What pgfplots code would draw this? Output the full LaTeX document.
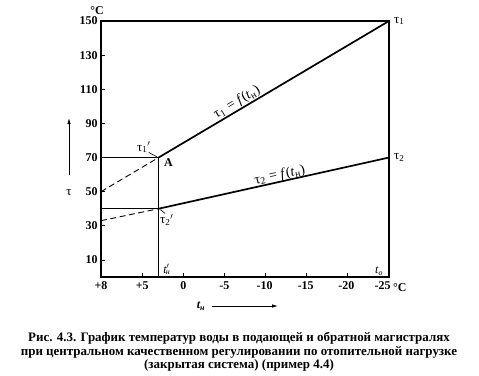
\documentclass[border=0pt]{standalone}
\usepackage{fontspec}
\setmainfont{Liberation Serif}
\usepackage{pgfplots}
\pgfplotsset{compat=1.18}
\usetikzlibrary{arrows.meta}
\begin{document}
\begin{tikzpicture}[x=1bp,y=1bp]
\path[use as bounding box] (0,0) rectangle (479,375);
\begin{axis}[
  at={(101bp,98bp)}, anchor=south west,
  scale only axis, width=288bp, height=256bp,
  xmin=-10, xmax=25, ymin=0, ymax=150,
  xtick={-10,-5,...,25},
  xticklabels={+8,+5,0,-5,\hspace*{-2bp}-10,\hspace*{-2bp}-15,\hspace*{-3bp}-20,\hspace*{-13bp}-25},
  ytick={10,30,...,150},
  tick pos=left, tick align=inside,
  major tick length=4bp,
  axis line style={line width=1.1bp},
  tick style={line width=0.8bp, black},
  ticklabel style={font=\fontsize{12}{12}\selectfont\bfseries},
  /pgf/number format/assume math mode=true,
  xticklabel style={yshift=-1bp},
  clip=false,
]
\addplot[black, line width=1.7bp] coordinates {(-3,70) (25,150)};
\addplot[black, line width=1.7bp] coordinates {(-3,40) (25,70)};
\addplot[black, line width=0.9bp, dash pattern=on 6bp off 3.5bp] coordinates {(-10,50) (-3,70)};
\addplot[black, line width=0.9bp, dash pattern=on 6bp off 3.5bp] coordinates {(-10,33) (-3,40)};
\addplot[black, line width=1.6bp] coordinates {(-10,70) (-3,70)};
\addplot[black, line width=1.2bp] coordinates {(-10,40) (-3,40)};
\addplot[black, line width=0.9bp] coordinates {(-3,0) (-3,70)};
\draw[line width=0.6bp] (axis cs:-4.2,73) -- (axis cs:-3.2,70.4);
\draw[line width=0.6bp] (axis cs:-2.8,39.5) -- (axis cs:-2.2,37.2);
\node[font=\fontsize{13}{13}\selectfont] at (axis cs:-4.8,76) {τ\textsubscript{1}$'$};
\node[font=\fontsize{12}{12}\selectfont\bfseries] at (axis cs:-1.8,67) {A};
\node[font=\fontsize{13}{13}\selectfont] at (axis cs:-2.0,33.5) {τ\textsubscript{2}$'$};
\node[font=\fontsize{12}{12}\selectfont\itshape] at (axis cs:-2.0,4.3) {t$'$\kern-3.5bp\textsubscript{н}};
\node[font=\fontsize{12}{12}\selectfont\itshape] at (axis cs:23.8,3.6) {t\textsubscript{о}};
\node[font=\fontsize{13}{13}\selectfont, anchor=west] at (axis cs:25.2,150) {τ\textsubscript{1}};
\node[font=\fontsize{13}{13}\selectfont, anchor=west] at (axis cs:25.2,70) {τ\textsubscript{2}};
\node[font=\fontsize{14}{14}\selectfont, rotate=30.7, anchor=south, inner sep=1bp] at (axis cs:7.0,98.6) {τ\textsubscript{1}\;=\;\textit{f}(\textit{t}\textsubscript{н})};
\node[font=\fontsize{14}{14}\selectfont, rotate=12.4, anchor=south, inner sep=0bp] at (axis cs:11.9,55.9) {τ\textsubscript{2}\;=\;\textit{f}(\textit{t}\textsubscript{н})};
\end{axis}
\node[font=\fontsize{12}{12}\selectfont\bfseries] at (97,364) {°C};
\node[font=\fontsize{12}{12}\selectfont\bfseries, anchor=west, inner sep=0bp] at (393,87.5) {°C};
\draw[line width=0.8bp, -{Latex[length=6bp,width=3.5bp]}] (69,200) -- (69,257);
\node[font=\fontsize{13}{13}\selectfont] at (69,182) {τ};
\node[font=\fontsize{12}{12}\selectfont\itshape\bfseries] at (201,69) {t\textsubscript{н}};
\draw[line width=0.8bp, -{Latex[length=6bp,width=3.5bp]}] (212,69) -- (278,69);
\node[align=center, font=\fontsize{13}{13.7}\selectfont\bfseries] at (239,23)
 {Рис. 4.3. График температур воды в подающей и обратной магистралях\\
  при центральном качественном регулировании по отопительной нагрузке\\
  (закрытая система) (пример 4.4)};
\end{tikzpicture}
\end{document}
